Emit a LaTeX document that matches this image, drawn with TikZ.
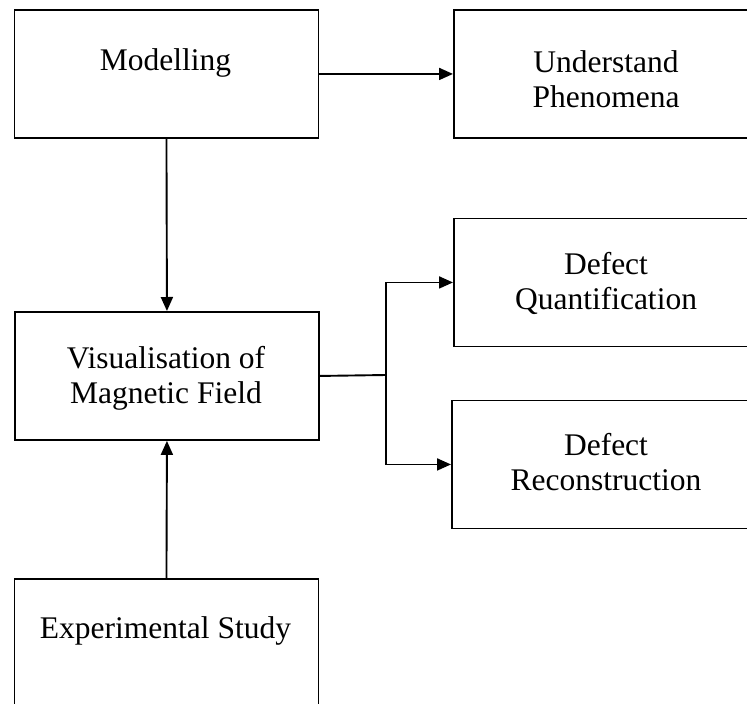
\documentclass[tikz,border=0pt]{standalone}
\usepackage{fontspec}
\setmainfont{Liberation Serif}
\usetikzlibrary{arrows.meta}
\begin{document}
\begin{tikzpicture}[x=1pt,y=-1pt,
  box/.style={draw=black,line width=1.9pt,rectangle,minimum width=304pt,
    minimum height=128pt,inner sep=0pt,anchor=north west},
  lbl/.style={font=\fontsize{31.5}{35}\selectfont,anchor=base,inner sep=0pt},
  wire/.style={line width=1.9pt},
  link/.style={wire,-{Triangle[length=14pt,width=12pt]}}]
\useasboundingbox (0,0) rectangle (747,704);
% boxes
\node[box] (mod) at (13.5,9) {};
\node[box] (und) at (453,9) {};
\node[box] (qua) at (453,217.5) {};
\node[box] (vis) at (14,311) {};
\node[box] (rec) at (451,399.5) {};
\node[box] (exp) at (13.5,578) {};
% labels
\node[lbl] (tmod) at (165.5,70) {Modelling};
\node[lbl] (tund) at (606,72) {\begin{tabular}[t]{@{}c@{}}Understand\\Phenomena\end{tabular}};
\node[lbl] (tqua) at (606,274) {\begin{tabular}[t]{@{}c@{}}Defect\\Quantification\end{tabular}};
\node[lbl] (tvis) at (166,368) {\begin{tabular}[t]{@{}c@{}}Visualisation of\\Magnetic Field\end{tabular}};
\node[lbl] (trec) at (606,455) {\begin{tabular}[t]{@{}c@{}}Defect\\Reconstruction\end{tabular}};
\node[lbl] (texp) at (165.5,638) {Experimental Study};
% connectors
\coordinate (fork) at (386,375);
\draw[link] (mod.east) -- (und.west);
\draw[link] (mod.south) -- (vis.north);
\draw[link] (exp.north) -- (vis.south);
\draw[wire] (vis.east) -- (fork);
\draw[link] (fork) |- (qua.west);
\draw[link] (fork) |- (rec.west);
\end{tikzpicture}
\end{document}
